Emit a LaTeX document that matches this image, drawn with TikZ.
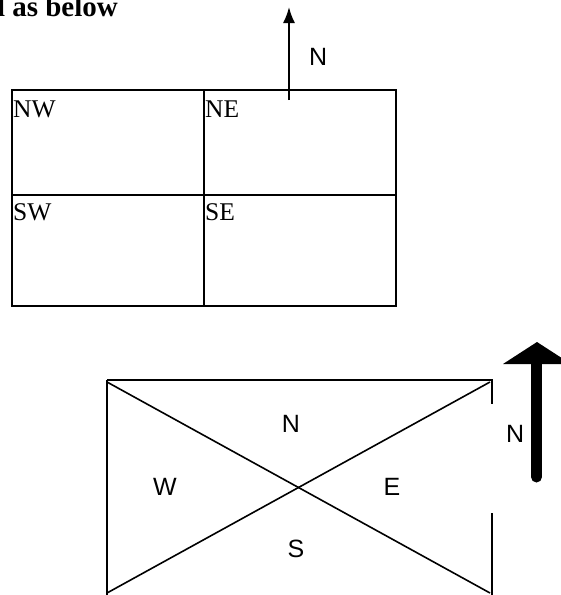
\documentclass[tikz,border=0pt]{standalone}
\usepackage{fontspec}
\usetikzlibrary{arrows.meta}
\setmainfont{Liberation Serif}
\newfontfamily\labelsans{Liberation Sans}
\begin{document}
\begin{tikzpicture}[x=1pt,y=-1pt,
  gridline/.style={line width=2pt},
  boxline/.style={line width=1.3pt},
  cell/.style={anchor=base west,inner sep=0pt,font=\fontsize{25.5}{25.5}\selectfont},
  dir/.style={inner sep=0pt,font=\labelsans\fontsize{25}{25}\selectfont}]
\useasboundingbox (0,0) rectangle (561,595);
\clip (0,0) rectangle (561,595);

% heading line, cut at the left edge
\node[anchor=base east,inner sep=0pt,font=\bfseries\fontsize{29}{29}\selectfont] (head) at (118,16) {d as below};

% four-quadrant grid
\coordinate (g1) at (12,90);
\coordinate (g2) at (396,306);
\draw[gridline] (g1) rectangle (g2);
\draw[gridline] (12,195) -- (396,195);
\draw[gridline] (204,90) -- (204,306);
\node[cell] (nw) at (13,117) {NW};
\node[cell] (ne) at (205,117) {NE};
\node[cell] (sw) at (13,220) {SW};
\node[cell] (se) at (205,220) {SE};

% small north arrow
\coordinate (a0) at (289,100);
\coordinate (a1) at (289,7);
\draw[line width=1.8pt,-{Latex[length=16pt,width=12pt]}] (a0) -- (a1);
\node[dir,anchor=base west] (n1) at (309,65) {N};

% rectangle split by its diagonals
\coordinate (tl) at (107,380);
\coordinate (tr) at (492,380);
\coordinate (bl) at (107,596);
\coordinate (br) at (492,596);
\draw[boxline] (tl) -- (tr) -- (492,404);
\draw[boxline] (492,513) -- (br);
\draw[boxline] (tl) -- (bl);
\draw[line width=1.6pt] (107,382) -- (490,593);
\draw[line width=1.6pt] (107,593) -- (490,382);
\node[dir] (dn) at (291,424) {N};
\node[dir] (dw) at (165,487) {W};
\node[dir] (de) at (392,487) {E};
\node[dir] (ds) at (296,549) {S};

% bold north arrow
\coordinate (b0) at (536.5,477);
\coordinate (b1) at (536.5,362);
\draw[line width=11pt,line cap=round] (b0) -- (b1);
\fill (503,364) -- (537,342) -- (571,364) -- cycle;
\node[dir,anchor=base west] (n2) at (506,442) {N};
\end{tikzpicture}
\end{document}
